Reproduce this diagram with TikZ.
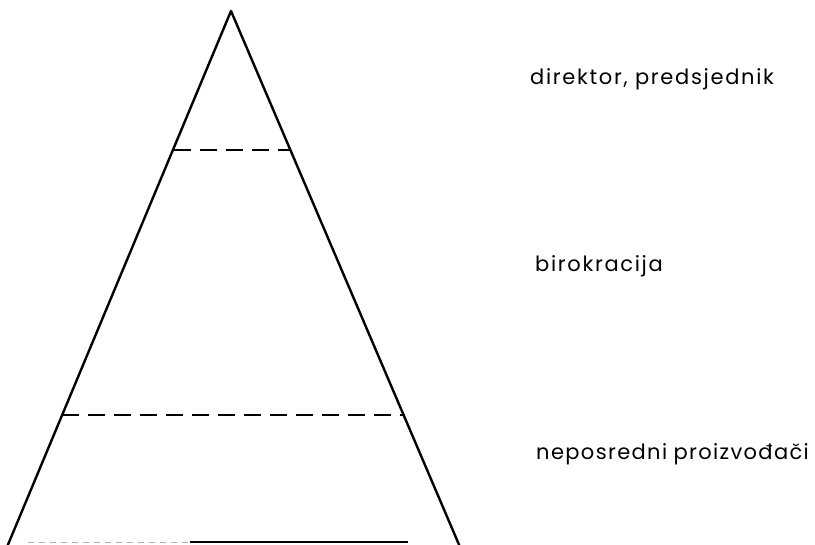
\documentclass[tikz,border=0pt]{standalone}
\usepackage{fontspec}
\setmainfont{Poppins}
\newfontfamily\lblfont[LetterSpace=8]{Poppins}
\newfontfamily\lblfonttight[LetterSpace=6.5]{Poppins}
\begin{document}
\begin{tikzpicture}[x=1pt,y=-1pt,
  edge/.style={line width=2.4pt,line cap=round,line join=round},
  level/.style={line width=2pt,dash pattern=on 17pt off 9pt},
  lbl/.style={anchor=base west,inner sep=0pt,font=\lblfont\fontsize{21}{24}\selectfont}]
\useasboundingbox (0,0) rectangle (815,545);
\coordinate (apex) at (231,11);
\coordinate (bl) at (7,547);
\coordinate (br) at (460,547);
\draw[edge] (bl) -- (apex) -- (br);
\coordinate (d1l) at (174,150);
\coordinate (d1r) at (290,150);
\coordinate (d2l) at (62,415);
\coordinate (d2r) at (405,415);
\draw[level] (d1l) -- (d1r);
\draw[level] (d2l) -- (d2r);
\coordinate (b1) at (28,542);
\coordinate (b2) at (190,542);
\coordinate (b3) at (408,542);
\draw[gray!60,line width=0.8pt,dash pattern=on 6pt off 5pt] (b1) -- (b2);
\draw[line width=1.2pt] (b2) -- (b3);
\node[lbl] (t1) at (530,85) {direktor,\hspace{0.35em}predsjednik};
\node[lbl] (t2) at (535,272) {birokracija};
\node[lbl,font=\lblfonttight\fontsize{21}{24}\selectfont] (t3) at (536,460) {neposredni\hspace{0.3em}proizvođači};
\end{tikzpicture}
\end{document}
